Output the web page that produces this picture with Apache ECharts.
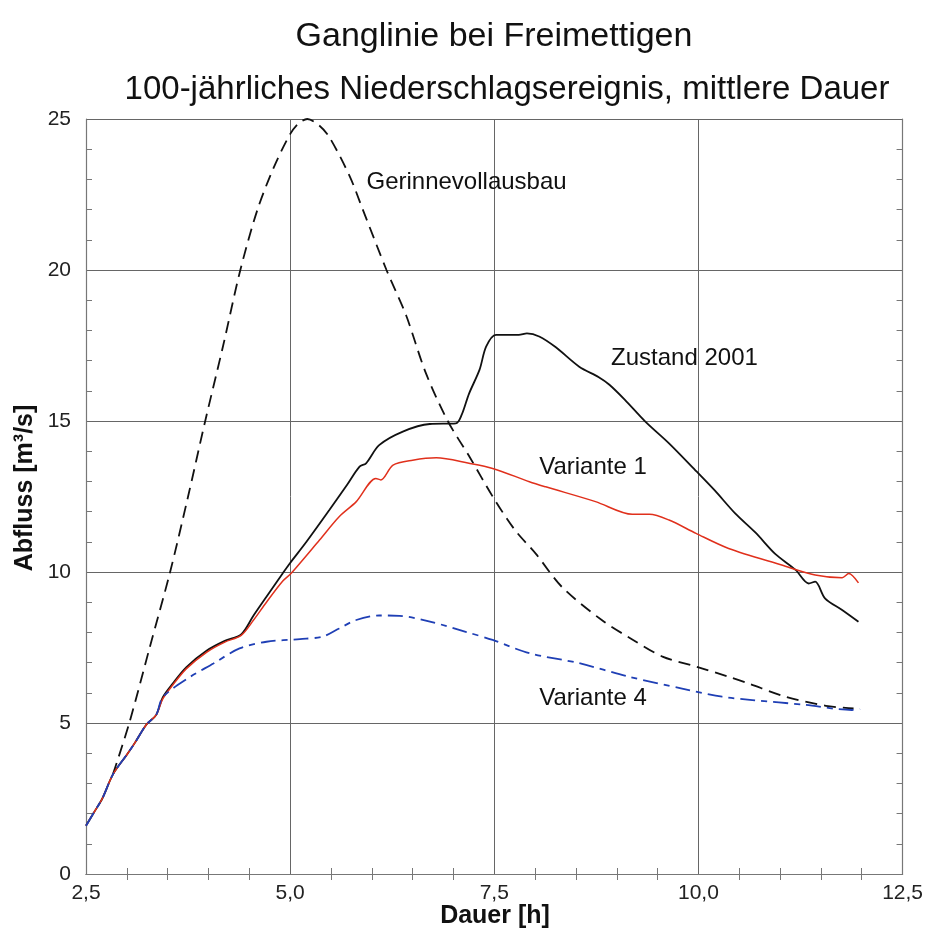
<!DOCTYPE html>
<html>
<head>
<meta charset="utf-8">
<script src="https://cdn.jsdelivr.net/npm/echarts@6/dist/echarts.min.js"></script>
<style>html,body{margin:0;padding:0;background:#fff}#c{width:926px;height:932px}</style>
</head>
<body>
<div id="c"></div>
<script>
// ---- Data (x = Dauer [h], y = Abfluss [m³/s]) ----
const zustand2001 = [
  [2.5,1.6],[2.6,2.05],[2.7,2.5],[2.83,3.3],[3.0,3.95],[3.1,4.35],[3.24,4.95],[3.36,5.27],
  [3.44,5.85],[3.56,6.3],[3.73,6.85],[3.98,7.4],[4.2,7.72],[4.4,7.93],[4.55,8.55],[4.71,9.18],
  [4.91,9.96],[5.0,10.3],[5.2,11.0],[5.48,12.05],[5.7,12.9],[5.85,13.49],[5.93,13.6],[6.09,14.2],
  [6.38,14.65],[6.71,14.9],[7.03,14.92],[7.1,15.2],[7.19,15.9],[7.32,16.7],[7.4,17.46],[7.52,17.85],
  [7.8,17.85],[7.9,17.9],[8.05,17.8],[8.25,17.45],[8.54,16.8],[8.78,16.45],[8.91,16.2],[9.1,15.7],
  [9.35,14.98],[9.64,14.26],[9.98,13.32],[10.2,12.7],[10.45,11.94],[10.7,11.3],[10.94,10.6],
  [11.19,10.07],[11.35,9.62],[11.43,9.68],[11.55,9.13],[11.76,8.74],[11.96,8.35]
];
const variante1 = [
  [2.5,1.6],[2.6,2.05],[2.7,2.5],[2.83,3.3],[3.0,3.95],[3.1,4.35],[3.24,4.95],[3.36,5.27],
  [3.44,5.8],[3.56,6.25],[3.73,6.8],[3.98,7.35],[4.2,7.68],[4.4,7.9],[4.55,8.4],[4.71,9.0],
  [4.91,9.7],[5.01,9.95],[5.36,11.06],[5.6,11.83],[5.81,12.33],[6.05,13.1],[6.11,13.05],[6.26,13.54],
  [6.5,13.7],[6.79,13.78],[7.19,13.6],[7.48,13.43],[7.93,12.99],[8.13,12.82],[8.74,12.33],[9.19,11.91],
  [9.4,11.91],[9.64,11.72],[9.97,11.28],[10.37,10.78],[11.02,10.23],[11.43,9.9],[11.76,9.81],
  [11.84,9.95],[11.96,9.64]
];
const variante4 = [
  [2.5,1.6],[2.6,2.05],[2.7,2.5],[2.83,3.3],[3.0,3.95],[3.1,4.35],[3.24,4.95],[3.36,5.27],
  [3.44,5.85],[3.73,6.45],[4.06,6.97],[4.38,7.47],[4.71,7.69],[5.12,7.78],[5.4,7.86],[5.6,8.13],
  [5.81,8.41],[6.09,8.56],[6.34,8.55],[6.75,8.33],[7.15,8.02],[7.48,7.75],[7.93,7.31],[8.54,6.98],
  [9.15,6.53],[9.8,6.14],[10.29,5.87],[10.66,5.76],[11.31,5.6],[11.88,5.43],[11.98,5.46]
];
const gerinnevollausbau = [
  [2.83,3.3],[3.03,5.0],[3.28,7.5],[3.53,10.0],[3.75,12.5],[3.96,15.0],[4.18,17.5],[4.39,20.0],
  [4.6,22.0],[4.8,23.4],[5.0,24.5],[5.1,24.85],[5.21,25.0],[5.35,24.8],[5.48,24.4],[5.73,23.1],
  [5.89,22.0],[6.18,20.0],[6.42,18.5],[6.66,16.6],[6.93,15.0],[7.2,13.8],[7.48,12.5],[7.75,11.4],
  [8.01,10.6],[8.33,9.5],[8.82,8.4],[9.2,7.75],[9.56,7.2],[9.97,6.87],[10.37,6.53],[10.62,6.3],
  [11.07,5.87],[11.56,5.57],[11.9,5.48]
];
const xTicks = [2.5, 5.0, 7.5, 10.0, 12.5];
const yTicks = [0, 5, 10, 15, 20, 25];
const titleText = 'Ganglinie bei Freimettigen';
const subtitleText = '100-jährliches Niederschlagsereignis, mittlere Dauer';
const xName = 'Dauer [h]';
const yName = 'Abfluss [m³/s]';
const curveLabels = [
  {text:'Gerinnevollausbau', x:5.935, y:22.9},
  {text:'Zustand 2001', x:8.93, y:17.07},
  {text:'Variante 1', x:8.05, y:13.45},
  {text:'Variante 4', x:8.05, y:5.82}
];

const FONT = "'Liberation Sans', Arial, Helvetica, sans-serif";
const chart = echarts.init(document.getElementById('c'), null, {renderer:'canvas'});
const axisLine = {show:true, lineStyle:{color:'#777', width:1.2}};
const tickStyle = {color:'#777', width:1};
const fmtX = v => v.toFixed(1).replace('.', ',');

const option = {
  backgroundColor:'#fff',
  animation:false,
  title:[
    {text:titleText, left:489, top:15, textAlign:'center',
     textStyle:{fontFamily:FONT, fontSize:34, fontWeight:'normal', color:'#111'}},
    {text:subtitleText, left:502, top:68, textAlign:'center',
     textStyle:{fontFamily:FONT, fontSize:33, fontWeight:'normal', color:'#111'}}
  ],
  grid:{left:86, right:23, top:119, bottom:58, containLabel:false},
  xAxis:[
    {type:'value', min:2.5, max:12.5, interval:2.5, position:'bottom',
     axisLine:axisLine,
     axisTick:{show:false, inside:true},
     minorTick:{show:true, splitNumber:5, length:6, lineStyle:tickStyle},
     axisLabel:{fontFamily:FONT, fontSize:21, color:'#222', margin:9, formatter:fmtX},
     splitLine:{show:true, lineStyle:{color:'#666', width:1}}
    },
    {type:'value', min:2.5, max:12.5, interval:2.5, position:'top',
     axisLine:axisLine, axisTick:{show:false, inside:true},
     minorTick:{show:true, splitNumber:5, length:6, lineStyle:tickStyle},
     axisLabel:{show:false}, splitLine:{show:false}
    }
  ],
  yAxis:[
    {type:'value', min:0, max:25, interval:5, position:'left',
     axisLine:axisLine,
     axisTick:{show:false, inside:true},
     minorTick:{show:true, splitNumber:5, length:6, lineStyle:tickStyle},
     axisLabel:{fontFamily:FONT, fontSize:21, color:'#222', margin:15},
     splitLine:{show:true, lineStyle:{color:'#666', width:1}}
    },
    {type:'value', min:0, max:25, interval:5, position:'right',
     axisLine:axisLine, axisTick:{show:false, inside:true},
     minorTick:{show:true, splitNumber:5, length:6, lineStyle:tickStyle},
     axisLabel:{show:false}, splitLine:{show:false}
    }
  ],
  series:[
    {name:'Gerinnevollausbau', type:'line', data:gerinnevollausbau, showSymbol:false, smooth:0.3,
     lineStyle:{color:'#111', width:1.8, type:[12,7]}, z:3},
    {name:'Zustand 2001', type:'line', data:zustand2001, showSymbol:false, smooth:0.3,
     lineStyle:{color:'#111', width:1.8}, z:4},
    {name:'Variante 1', type:'line', data:variante1, showSymbol:false, smooth:0.3,
     lineStyle:{color:'#e0301c', width:1.5}, z:5},
    {name:'Variante 4', type:'line', data:variante4, showSymbol:false, smooth:0.3,
     lineStyle:{color:'#1f3fb5', width:1.8, type:[15,6,6,6]}, z:6}
  ]
};
chart.setOption(option);

// annotation labels placed at data coordinates, axis names as text
const graphics = curveLabels.map(l => {
  const p = chart.convertToPixel({gridIndex:0}, [l.x, l.y]);
  return {type:'text', x:p[0], y:p[1],
    style:{text:l.text, fontFamily:FONT, fontSize:24, fill:'#111', align:'left', verticalAlign:'middle'}};
});
graphics.push({type:'text', x:495, y:916,
  style:{text:xName, fontFamily:FONT, fontSize:25, fontWeight:'bold', fill:'#111', align:'center', verticalAlign:'middle'}});
graphics.push({type:'text', x:25, y:488, rotation:Math.PI/2,
  style:{text:yName, fontFamily:FONT, fontSize:25, fontWeight:'bold', fill:'#111', align:'center', verticalAlign:'middle'}});
chart.setOption({graphic:graphics});
</script>
</body>
</html>
